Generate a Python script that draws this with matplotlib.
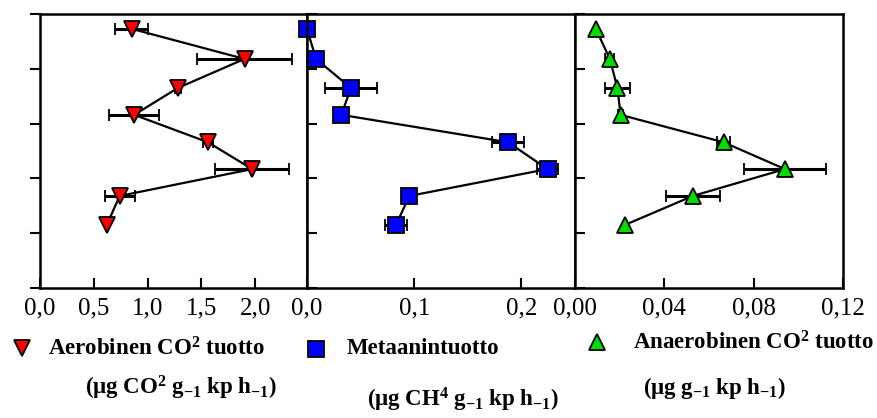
"""Depth profiles of CO2 and methane production (three panels)."""

import matplotlib
matplotlib.use("Agg")
import matplotlib.pyplot as plt
import matplotlib.transforms as mtransforms
from matplotlib.lines import Line2D

plt.rcParams["font.family"] = ["Liberation Serif", "DejaVu Serif"]
plt.rcParams["mathtext.fontset"] = "custom"
plt.rcParams["mathtext.rm"] = "Liberation Serif:bold"
plt.rcParams["mathtext.it"] = "Liberation Serif:bold"
plt.rcParams["mathtext.bf"] = "Liberation Serif:bold"

# depth of each sample (arbitrary units, top = 0)
depth = [2.7, 8.2, 13.5, 18.4, 23.4, 28.3, 33.2, 38.5]

aerobic_co2 = [0.85, 1.90, 1.28, 0.875, 1.56, 1.97, 0.74, 0.62]
aerobic_err = [0.15, 0.44, 0.03, 0.23, 0.05, 0.34, 0.14, 0.0]

methane = [0.0, 0.0084, 0.041, 0.032, 0.1875, 0.2244, 0.0955, 0.083]
methane_err = [0.0, 0.004, 0.024, 0.0, 0.015, 0.01, 0.0, 0.01]

anaerobic_co2 = [0.0093, 0.0156, 0.019, 0.0204, 0.0665, 0.094, 0.0528, 0.0223]
anaerobic_err = [0.0, 0.002, 0.0055, 0.001, 0.003, 0.0185, 0.012, 0.0]

ticks_1 = [0.0, 0.5, 1.0, 1.5, 2.0]
ticks_2 = [0.0, 0.1, 0.2]
ticks_3 = [0.0, 0.04, 0.08, 0.12]
labels_1 = ["0,0", "0,5", "1,0", "1,5", "2,0"]
labels_2 = ["0,0", "0,1", "0,2"]
labels_3 = ["0,00", "0,04", "0,08", "0,12"]
depth_ticks = [0, 10, 20, 30, 40, 50]

W, H = 878, 418
fig = plt.figure(figsize=(W / 100, H / 100), dpi=100)


def px(x0, y0, x1, y1):
    return [x0 / W, 1 - y1 / H, (x1 - x0) / W, (y1 - y0) / H]


ax1 = fig.add_axes(px(40, 14, 307, 288))
ax2 = fig.add_axes(px(307, 14, 575, 288))
ax3 = fig.add_axes(px(575, 14, 843, 288))

panels = [
    (ax1, aerobic_co2, aerobic_err, "v", "#ff0000", 12, (0, 2.48), ticks_1, labels_1),
    (ax2, methane, methane_err, "s", "#0000ff", 11, (0, 0.25), ticks_2, labels_2),
    (ax3, anaerobic_co2, anaerobic_err, "^", "#00dd00", 12, (0, 0.12), ticks_3, labels_3),
]

offset = mtransforms.ScaledTranslation(8 / 100, 0, fig.dpi_scale_trans)

for i, (ax, vals, err, mk, col, ms, xlim, ticks, labels) in enumerate(panels):
    eb = ax.errorbar(vals, depth, xerr=err, fmt="-", color="black", lw=1.6,
                     marker=mk, mfc=col, mec="black", mew=1.3, ms=ms,
                     elinewidth=2.2, capsize=4.5, capthick=2.2)
    eb.lines[0].set_clip_on(False)
    ax.set_xlim(*xlim)
    ax.set_ylim(50, 0)
    ax.set_xticks(ticks)
    ax.set_xticklabels(labels, fontsize=18)
    for lab in ax.get_xticklabels():
        lab.set_transform(lab.get_transform() + offset)
    ax.set_yticks(depth_ticks)
    ax.set_yticklabels([])
    ax.tick_params(axis="x", direction="in", length=7, width=1.5, pad=7)
    ax.tick_params(axis="y", direction="out" if i == 0 else "in",
                   length=7, width=1.5)
    for sp in ax.spines.values():
        sp.set_linewidth(1.8)

# legend markers and captions
legend_items = [
    ("v", "#ff0000", 22, 349, 48, 349, r"Aerobinen CO$^2$ tuotto",
     85, 388, r"(μg CO$^2$ g$_{-1}$ kp h$_{-1}$)"),
    ("s", "#0000ff", 316, 350, 347, 349, "Metaanintuotto",
     367, 400, r"(μg CH$^4$ g$_{-1}$ kp h$_{-1}$)"),
    ("^", "#00dd00", 597, 343, 633, 343, r"Anaerobinen CO$^2$ tuotto",
     643, 388, r"(μg g$_{-1}$ kp h$_{-1}$)"),
]

for mk, col, mx, my, tx, ty, text, ux, uy, units in legend_items:
    handle = Line2D([], [], linestyle="none", marker=mk, mfc=col, mec="black",
                    mew=1.3, ms=11)
    fig.legend(handles=[handle], labels=[""], loc="center",
               bbox_to_anchor=(mx / W, 1 - my / H), frameon=False,
               handlelength=1, handletextpad=0, borderpad=0)
    fig.text(tx / W, 1 - ty / H, text, fontsize=16.5, fontweight="bold",
             ha="left", va="center")
    fig.text(ux / W, 1 - uy / H, units, fontsize=16.5, fontweight="bold",
             ha="left", va="center")

fig.savefig("out.png", dpi=100)
plt.close(fig)
